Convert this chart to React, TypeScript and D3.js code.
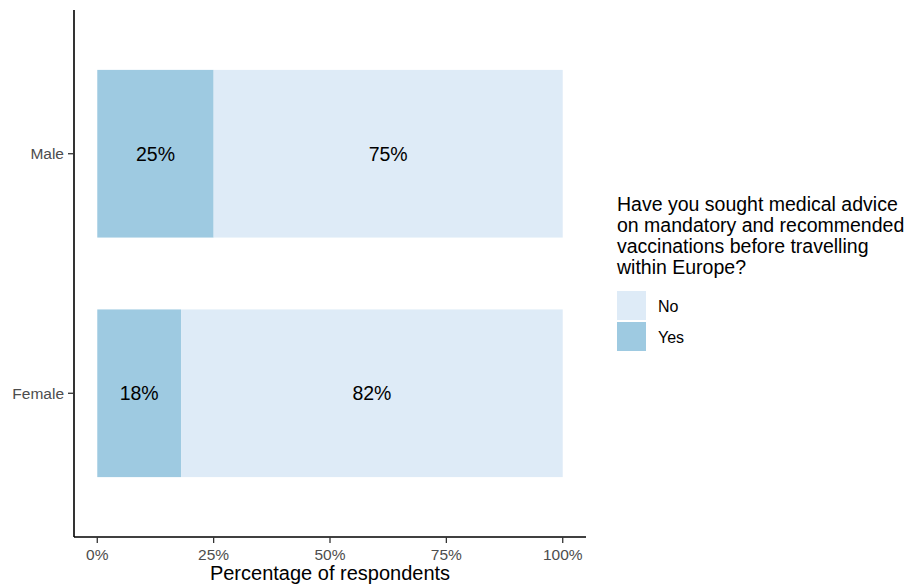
import React from "react";
import * as d3 from "d3";

const categories = ["Male", "Female"];
const yesValues = [25, 18];
const noValues = [75, 82];
const xTicks = [0, 25, 50, 75, 100];
const legendTitle = [
  "Have you sought medical advice",
  "on mandatory and recommended",
  "vaccinations before travelling",
  "within Europe?",
];
const legendItems = [
  { key: "No", color: "#deebf7" },
  { key: "Yes", color: "#9ecae1" },
];

const W = 917;
const H = 586;
const panel = { left: 74, right: 586, top: 10, bottom: 537 };
const FONT = "'Liberation Sans', Arial, Helvetica, sans-serif";

export default function App() {
  const x = d3
    .scaleLinear()
    .domain([-5, 105])
    .range([panel.left, panel.right]);
  const y = d3
    .scaleBand<string>()
    .domain(categories)
    .range([panel.top, panel.bottom])
    .paddingInner(0.3)
    .paddingOuter(0.25);

  const rows = categories.map((c, i) => ({
    cat: c,
    segs: [
      { key: "Yes", start: 0, end: yesValues[i], color: "#9ecae1" },
      { key: "No", start: yesValues[i], end: yesValues[i] + noValues[i], color: "#deebf7" },
    ],
  }));

  return (
    <svg
      width={W}
      height={H}
      style={{ position: "absolute", left: 0, top: 0, background: "#fff" }}
      fontFamily={FONT}
    >
      {rows.map((r) =>
        r.segs.map((s) => (
          <g key={r.cat + s.key}>
            <rect
              x={x(s.start)}
              y={y(r.cat)!}
              width={x(s.end) - x(s.start)}
              height={y.bandwidth()}
              fill={s.color}
            />
            <text
              x={(x(s.start) + x(s.end)) / 2}
              y={y(r.cat)! + y.bandwidth() / 2 + 7}
              textAnchor="middle"
              fontSize={19.5}
              fill="#000"
            >
              {`${s.end - s.start}%`}
            </text>
          </g>
        ))
      )}
      {/* axes */}
      <line x1={panel.left} x2={panel.left} y1={panel.top} y2={panel.bottom} stroke="#000" strokeWidth={1.6} />
      <line x1={panel.left} x2={panel.right} y1={panel.bottom} y2={panel.bottom} stroke="#000" strokeWidth={1.6} />
      {xTicks.map((t) => (
        <g key={t}>
          <line x1={x(t)} x2={x(t)} y1={panel.bottom} y2={panel.bottom + 6} stroke="#333" strokeWidth={1.3} />
          <text x={x(t)} y={560} textAnchor="middle" fontSize={15.5} fill="#4d4d4d">
            {`${t}%`}
          </text>
        </g>
      ))}
      {categories.map((c) => (
        <g key={c}>
          <line
            x1={panel.left - 6}
            x2={panel.left}
            y1={y(c)! + y.bandwidth() / 2}
            y2={y(c)! + y.bandwidth() / 2}
            stroke="#333"
            strokeWidth={1.3}
          />
          <text
            x={panel.left - 10}
            y={y(c)! + y.bandwidth() / 2 + 5.5}
            textAnchor="end"
            fontSize={15.5}
            fill="#4d4d4d"
          >
            {c}
          </text>
        </g>
      ))}
      <text x={(panel.left + panel.right) / 2} y={580} textAnchor="middle" fontSize={20} fill="#000">
        Percentage of respondents
      </text>
      {/* legend */}
      {legendTitle.map((l, i) => (
        <text key={i} x={617} y={211 + i * 21} fontSize={19.5} fill="#000">
          {l}
        </text>
      ))}
      {legendItems.map((it, i) => (
        <g key={it.key}>
          <rect x={617} y={291 + i * 31} width={29} height={29} fill={it.color} />
          <text x={658} y={311.5 + i * 31} fontSize={16} fill="#000">
            {it.key}
          </text>
        </g>
      ))}
    </svg>
  );
}
